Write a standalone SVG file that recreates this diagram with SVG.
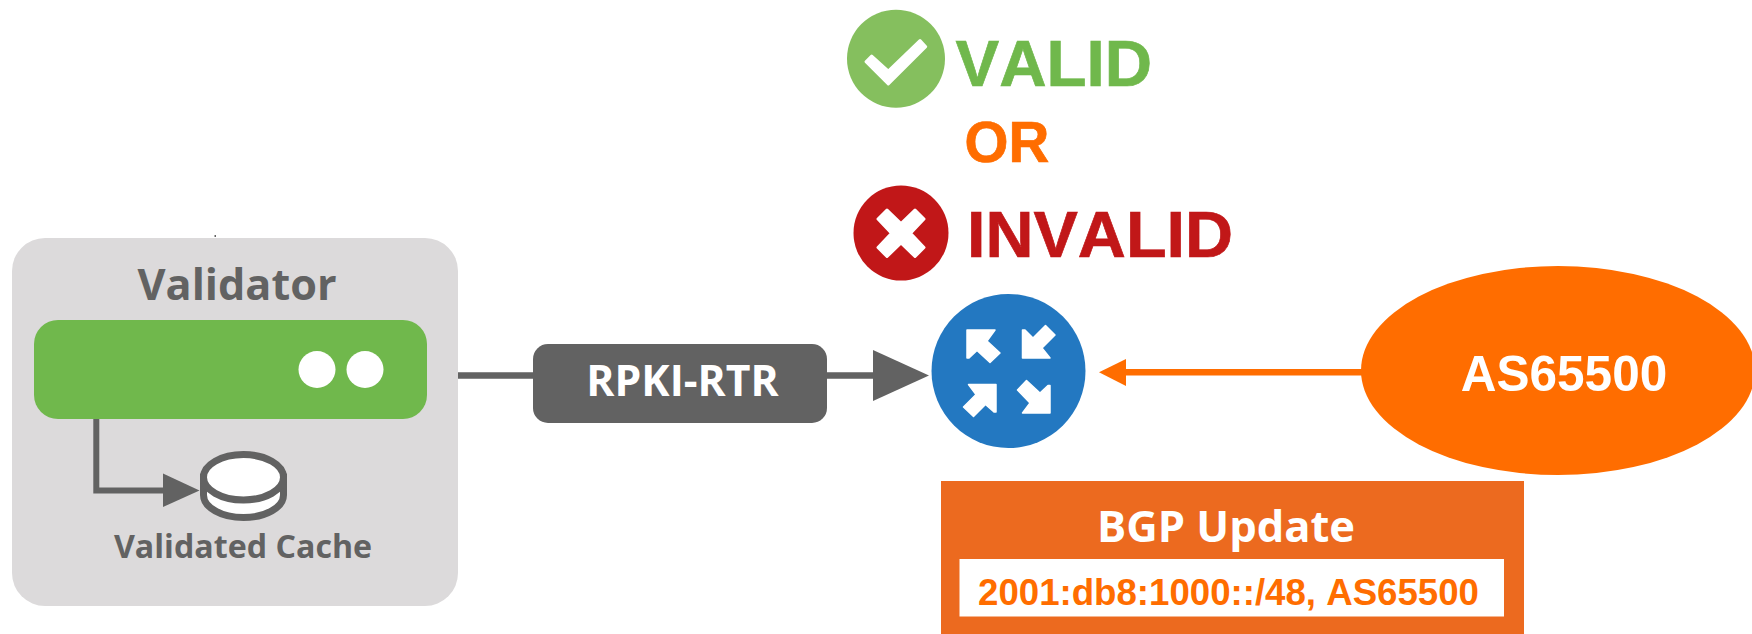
<svg xmlns="http://www.w3.org/2000/svg" width="1752" height="634" viewBox="0 0 1752 634">
<style>
.os{font-family:"Open Sans","Noto Sans",sans-serif;font-weight:700}
.ls{font-family:"Liberation Sans",Arial,sans-serif;font-weight:700;font-kerning:none}
.g{fill:#626262}
.w{fill:#fff}
.ln{stroke:#626262;fill:none}
</style>
<rect width="1752" height="634" fill="#fff"/>
<g id="validator">
<rect x="12" y="238" width="446" height="368" rx="33" fill="#DCDADB"/>
<path d="M214.5 235h1.5v2h-1.5z" fill="#626262"/>
<text class="os g" x="237" y="299.500" font-size="43.200" text-anchor="middle">Validator</text>
<rect x="34" y="320" width="393" height="99" rx="24" fill="#70B84C"/>
<circle class="w" cx="317" cy="369.500" r="18.500"/>
<circle class="w" cx="365" cy="369.500" r="18.500"/>
</g>
<g id="cache">
<path d="M203.500 477v18c0 12.400 17.900 22.500 40 22.500s40-10.100 40-22.500v-18z" fill="#fff" stroke="#626262" stroke-width="7"/>
<ellipse cx="243.500" cy="477.300" rx="40" ry="22.700" fill="#fff" stroke="#626262" stroke-width="7"/>
<text class="os g" x="243" y="557.500" font-size="32.200" text-anchor="middle">Validated Cache</text>
</g>
<g id="connectors">
<path class="ln" stroke-width="6" d="M96.300 419V490.500H165"/>
<path class="g" d="M163 473.500 199.500 490.500 163 507z"/>
<path class="ln" stroke-width="6.500" d="M458 375.500H533M827 375.500H875"/>
<path class="g" d="M873 350 929 375.500 873 401z"/>
<path stroke="#FF6D00" stroke-width="6.500" fill="none" d="M1362 372.300H1124"/>
<path fill="#FF6D00" d="M1099 372.300 1126 359V386z"/>
</g>
<g id="rpki-rtr">
<rect x="533" y="344" width="294" height="79" rx="15" class="g"/>
<text class="os w" x="682.500" y="396" font-size="42.700" text-anchor="middle">RPKI-RTR</text>
</g>
<g id="router">
<circle cx="1008.500" cy="371" r="77" fill="#2378C1"/>
<g class="w" stroke="#fff" stroke-width="1.500" stroke-linejoin="round">
<path d="M967 330H995L987 341 1000 353 990 362.500 977 350.500 969 358H967z"/>
<path d="M1022.500 330V358H1050L1042 348 1055 335 1045.500 325.500 1033 338 1025 330z"/>
<path d="M968.500 384.500H996V412H994L985.500 404.500 973.500 416.500 963.500 407 976 394.500z"/>
<path d="M1050 385.500V413H1022.500L1030 403 1017.500 390 1026.500 380.500 1040 393 1048 385.500z"/>
</g>
</g>
<g id="valid">
<circle cx="896" cy="58.700" r="49" fill="#85BF5E"/>
<path class="w" stroke="#fff" stroke-width="3" stroke-linejoin="round" d="M871.700 56 866 61.700 888.300 84 925.700 46.700 920 40.500 888.300 71z"/>
<text class="ls" x="955.500" y="86" font-size="65.500" fill="#70B84C" stroke="#70B84C" stroke-width="0.700">VALID</text>
</g>
<text id="or" class="ls" x="964.500" y="162" font-size="56.500" fill="#FF6D00" stroke="#FF6D00" stroke-width="0.700">OR</text>
<g id="invalid">
<circle cx="901" cy="233" r="47.500" fill="#C11718"/>
<path class="w" stroke="#fff" stroke-width="3" stroke-linejoin="round" d="M878 219 887 210 901 223.500 915 210 924 219 910.500 233.300 924 247.500 915 256.500 901 243 887 256.500 878 247.500 891.500 233.300z"/>
<text class="ls" x="967" y="256.700" font-size="65.500" fill="#C11718" stroke="#C11718" stroke-width="0.700" textLength="266" lengthAdjust="spacingAndGlyphs">INVALID</text>
</g>
<g id="as65500">
<ellipse cx="1558" cy="370.500" rx="197" ry="104.500" fill="#FF6D00"/>
<text class="ls w" x="1564" y="391" font-size="49.500" text-anchor="middle">AS65500</text>
</g>
<g id="bgp-update">
<rect x="941" y="481" width="583" height="153" fill="#EC6A1F"/>
<text class="os w" x="1226" y="541.700" font-size="43.500" text-anchor="middle">BGP Update</text>
<rect x="959.500" y="559" width="544.500" height="57.500" fill="#fff"/>
<text class="ls" x="978" y="605" font-size="36.500" fill="#FF6D00" textLength="501" lengthAdjust="spacingAndGlyphs">2001:db8:1000::/48, AS65500</text>
</g>
</svg>
